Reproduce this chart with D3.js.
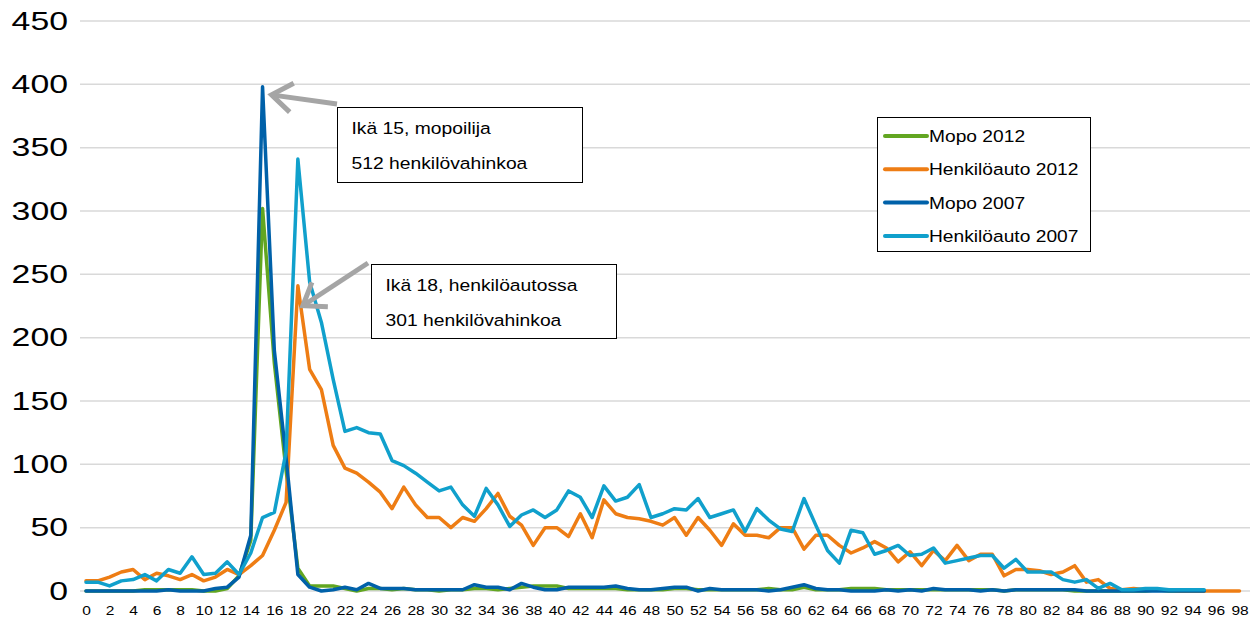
<!DOCTYPE html>
<html><head><meta charset="utf-8">
<script src="https://cdn.jsdelivr.net/npm/d3@7/dist/d3.min.js"></script>
<style>body{margin:0;background:#fff}svg{display:block}text{font-family:"Liberation Sans",Arial,sans-serif}</style>
</head><body><svg id="c" width="1256" height="619"></svg>
<script>
const ages = d3.range(0, 99);
const yTicks = [0,50,100,150,200,250,300,350,400,450];
const xTickLabels = d3.range(0, 99, 2);
const seriesNames = ["Mopo 2012","Henkilöauto 2012","Mopo 2007","Henkilöauto 2007"];
const seriesColors = ["#62a621","#ee7d14","#0061a9","#10a0cc"];
const mopo2012 = [0,0,0,0,0,1,1,1,1,1,0,0,2,12,40,302,180,95,18,4,4,4,2,0,2,2,1,2,1,1,0,1,1,2,2,1,2,3,4,4,4,2,2,2,2,2,1,1,1,1,2,2,1,1,1,1,1,1,2,1,1,3,1,1,1,2,2,2,1,1,1,1,1,1,1,1,1,1,0,1,1,1,1,1,0,0,0,0,0,0,0,1,0,0,0,0];
const henkiloauto2012 = [8,8,11,15,17,9,14,12,9,13,8,11,17,13,20,28,48,70,241,175,159,115,97,93,86,78,65,82,68,58,58,50,58,55,65,77,59,52,36,50,50,43,61,42,72,61,58,57,55,52,58,44,58,48,36,53,44,44,42,50,50,33,44,44,36,30,34,39,34,23,31,20,32,24,36,24,29,29,12,17,17,16,13,15,20,7,9,2,1,2,1,1,1,0,0,0,0,0,0];
const mopo2007 = [0,0,0,0,0,0,0,1,0,0,0,2,3,11,44,398,190,105,13,3,0,1,3,1,6,2,2,2,1,1,1,1,1,5,3,3,1,6,3,1,1,3,3,3,3,4,2,1,1,2,3,3,0,2,1,1,1,1,0,1,3,5,2,1,1,0,0,0,1,0,1,0,2,1,1,1,0,1,0,1,1,1,1,1,1,0,0,0,0,0,0,0,0,0,0,0];
const henkiloauto2007 = [7,7,4,8,9,13,8,17,14,27,13,14,23,13,30,58,62,110,341,244,212,167,126,129,125,124,103,99,93,86,79,82,68,59,81,68,51,60,64,58,64,79,74,58,83,71,74,84,58,61,65,64,73,58,61,64,47,65,56,49,47,73,52,32,22,48,46,29,32,36,28,29,34,22,24,26,28,28,18,25,15,15,15,9,7,9,2,6,1,1,2,2,1,1,1,1];
const allSeries = [mopo2012, henkiloauto2012, mopo2007, henkiloauto2007];
const notes = [
  {lines:["Ikä 15, mopoilija","512 henkilövahinkoa"], age:15, value:398},
  {lines:["Ikä 18, henkilöautossa","301 henkilövahinkoa"], age:18, value:241}
];

const svg = d3.select("#c");
const x = d3.scaleLinear().domain([0,98]).range([86,1239.5]);
const y = d3.scaleLinear().domain([0,450]).range([591,21]);

// gridlines
svg.append("g").selectAll("line").data(yTicks).join("line")
  .attr("x1",80).attr("x2",1250).attr("y1",d=>y(d)).attr("y2",d=>y(d))
  .attr("stroke","#d9d9d9").attr("stroke-width",1.5);

// y axis
const ya = svg.append("g").attr("transform","translate(68,0)")
  .call(d3.axisLeft(y).tickValues(yTicks).tickSize(0).tickPadding(0));
ya.select(".domain").remove();
ya.selectAll("text").attr("font-size",26).attr("fill","#000")
  .attr("font-family","Liberation Sans, Arial, sans-serif").attr("transform","scale(1.3,1)");

// x axis
const xa = svg.append("g").attr("transform","translate(0,602)")
  .call(d3.axisBottom(x).tickValues(xTickLabels).tickFormat(d3.format("d")).tickSize(0).tickPadding(3));
xa.select(".domain").remove();
xa.selectAll("text").attr("font-size",13.5).attr("fill","#000")
  .attr("font-family","Liberation Sans, Arial, sans-serif").attr("transform","scale(1.15,1)");

// lines
const line = d3.line().x((d,i)=>x(i)).y(d=>y(d));
allSeries.forEach((s,k)=>{
  svg.append("path").datum(s).attr("d",line).attr("fill","none")
    .attr("stroke",seriesColors[k]).attr("stroke-width",3.5)
    .attr("stroke-linejoin","round").attr("stroke-linecap","round");
});

function stretchedText(g, tx, ty, str, size, sx){
  g.append("text").attr("transform",`translate(${tx},${ty}) scale(${sx},1)`)
    .attr("font-size",size).attr("fill","#000").text(str);
}

// legend
const lg = svg.append("g");
lg.append("rect").attr("x",877.5).attr("y",117.5).attr("width",213).attr("height",134)
  .attr("fill","#fff").attr("stroke","#000").attr("stroke-width",1);
seriesNames.forEach((n,k)=>{
  const yy = 136 + k*33.3;
  lg.append("line").attr("x1",885).attr("x2",927).attr("y1",yy).attr("y2",yy)
    .attr("stroke",seriesColors[k]).attr("stroke-width",4).attr("stroke-linecap","round");
  stretchedText(lg, 929, yy+6, n, 17, 1.13);
});

// annotations
const boxes = [
  {x:337.5,y:107.5,w:245,h:75,from:[337,104],dx:9,dy:8},
  {x:371.5,y:264.5,w:245,h:74,from:[368,263],dx:5,dy:20}
];
notes.forEach((nt,k)=>{
  const b = boxes[k];
  const g = svg.append("g");
  g.append("rect").attr("x",b.x).attr("y",b.y).attr("width",b.w).attr("height",b.h)
    .attr("fill","#fff").attr("stroke","#000").attr("stroke-width",1);
  nt.lines.forEach((t,j)=>{
    stretchedText(g, b.x+14, b.y+26.5+j*35, t, 16.5, 1.17);
  });
  const tx = x(nt.age)+b.dx, ty = y(nt.value)+b.dy;
  const [fx,fy] = b.from;
  const ang = Math.atan2(fy-ty, fx-tx);
  const L = 25, a = 0.62;
  const g2 = svg.append("g").attr("stroke","#a5a5a5").attr("stroke-width",5).attr("fill","none").attr("stroke-linecap","butt");
  g2.append("line").attr("x1",fx).attr("y1",fy).attr("x2",tx).attr("y2",ty);
  g2.append("polyline").attr("stroke-linejoin","miter").attr("points",[
    [tx+L*Math.cos(ang+a), ty+L*Math.sin(ang+a)],[tx,ty],[tx+L*Math.cos(ang-a), ty+L*Math.sin(ang-a)]].map(p=>p.join(",")).join(" "));
});
</script></body></html>
